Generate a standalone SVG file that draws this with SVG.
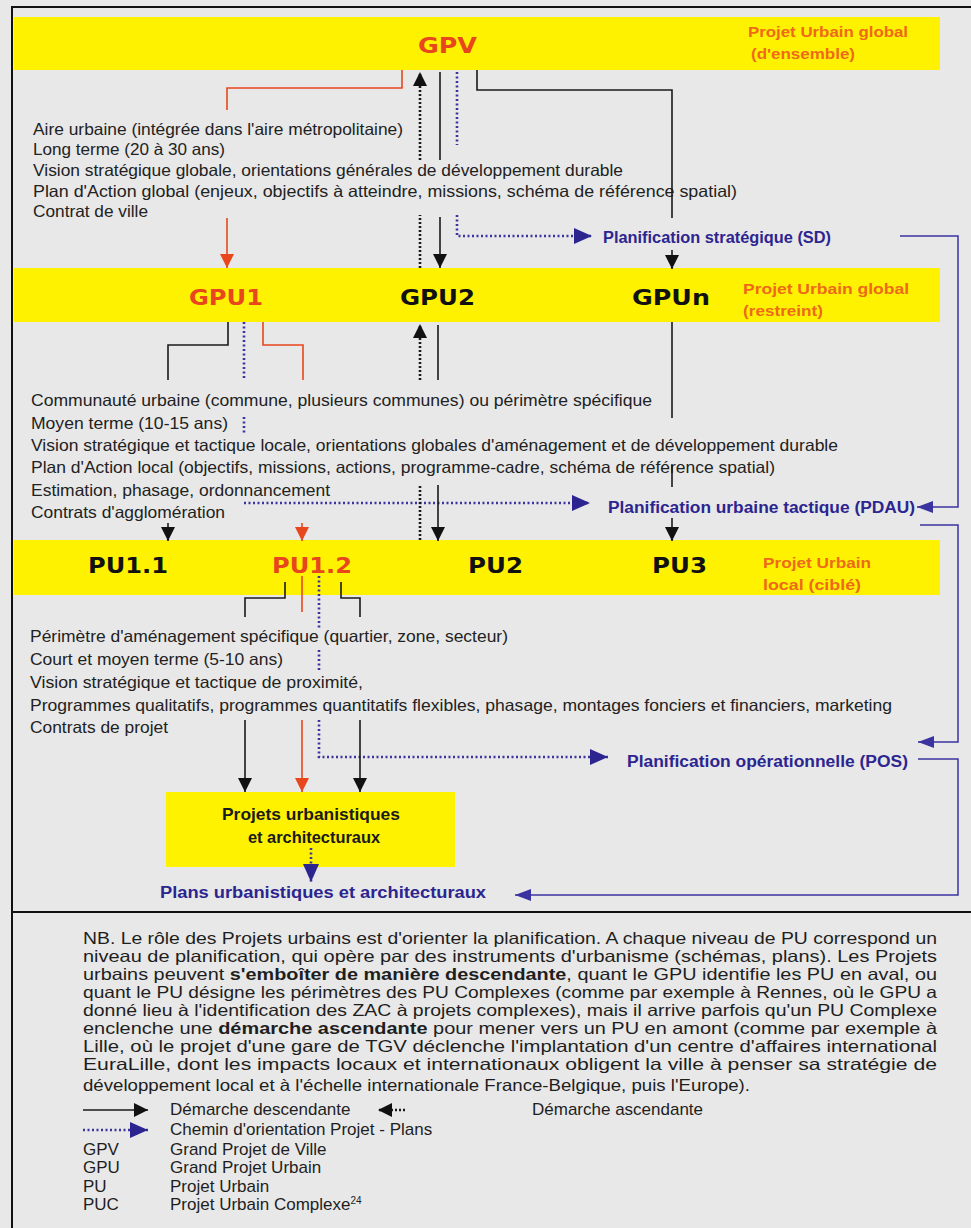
<svg xmlns="http://www.w3.org/2000/svg" width="971" height="1228" viewBox="0 0 971 1228">
<style>
.t{font-family:"Liberation Sans",Arial,sans-serif;font-size:16.5px;fill:#222}
.nb{font-family:"Liberation Sans",Arial,sans-serif;font-size:16.5px;fill:#1e1e1e}
.lg{font-family:"Liberation Sans",Arial,sans-serif;font-size:17px;fill:#1e1e1e}
.big{font-family:"DejaVu Sans",Verdana,sans-serif;font-weight:bold;font-size:22px;fill:#111}
.red{fill:#e8461c}
.lab{font-family:"Liberation Sans",Arial,sans-serif;font-weight:bold;font-size:15px;fill:#ee6a1a}
.pl{font-family:"Liberation Sans",Arial,sans-serif;font-weight:bold;font-size:16px;fill:#2c2590}
.box{font-family:"Liberation Sans",Arial,sans-serif;font-weight:bold;font-size:16.5px;fill:#1a1a1a}
.band{fill:#fff200}
.k{fill:none;stroke:#1a1a1a;stroke-width:1.6}
.kd{fill:none;stroke:#1a1a1a;stroke-width:2.6;stroke-dasharray:2 2}
.r{fill:none;stroke:#e8461c;stroke-width:1.6}
.bd{fill:none;stroke:#3a33a0;stroke-width:2.6;stroke-dasharray:2 2.5}
.b{fill:none;stroke:#3a33a0;stroke-width:1.5}
</style>
<defs>
<marker id="ak" viewBox="0 0 14 14" markerUnits="userSpaceOnUse" markerWidth="14" markerHeight="14" refX="14" refY="7" orient="auto"><path d="M0,0 L14,7 L0,14 z" fill="#111"/></marker>
<marker id="ar" viewBox="0 0 14 14" markerUnits="userSpaceOnUse" markerWidth="14" markerHeight="14" refX="14" refY="7" orient="auto"><path d="M0,0 L14,7 L0,14 z" fill="#e8461c"/></marker>
<marker id="ab" viewBox="0 0 18 16" markerUnits="userSpaceOnUse" markerWidth="18" markerHeight="16" refX="18" refY="8" orient="auto"><path d="M0,0 L18,8 L0,16 z" fill="#2c2590"/></marker>
<marker id="abs" viewBox="0 0 16 12" markerUnits="userSpaceOnUse" markerWidth="16" markerHeight="12" refX="16" refY="6" orient="auto"><path d="M0,0 L16,6 L0,12 z" fill="#3a33a0"/></marker>
<clipPath id="c3"><rect x="14" y="540" width="926" height="55"/></clipPath>
</defs>
<rect x="0" y="0" width="971" height="1228" fill="#e8e8e8"/>
<g id="frame" fill="none" stroke="#111" stroke-width="2">
<path d="M12,1228 V7 H971"/>
<path d="M12,912 H971"/>
</g>

<g id="level1">
<rect class="band" x="14" y="17" width="926" height="53"/>
<text class="big red" x="418" y="53" textLength="59" lengthAdjust="spacingAndGlyphs">GPV</text>
<text class="lab" x="748" y="37" textLength="160" lengthAdjust="spacingAndGlyphs">Projet Urbain global</text>
<text class="lab" x="751" y="59" textLength="104" lengthAdjust="spacingAndGlyphs">(d'ensemble)</text>
</g>
<g id="text1">
<text class="t" x="33" y="135" textLength="370" lengthAdjust="spacingAndGlyphs">Aire urbaine (intégrée dans l'aire métropolitaine)</text>
<text class="t" x="33" y="155" textLength="192" lengthAdjust="spacingAndGlyphs">Long terme (20 à 30 ans)</text>
<text class="t" x="33" y="176" textLength="590" lengthAdjust="spacingAndGlyphs">Vision stratégique globale, orientations générales de développement durable</text>
<text class="t" x="33" y="197" textLength="704" lengthAdjust="spacingAndGlyphs">Plan d'Action global (enjeux, objectifs à atteindre, missions, schéma de référence spatial)</text>
<text class="t" x="33" y="217" textLength="115" lengthAdjust="spacingAndGlyphs">Contrat de ville</text>
</g>
<g id="plan-sd"><text class="pl" x="603" y="243" textLength="228" lengthAdjust="spacingAndGlyphs">Planification stratégique  (SD)</text></g>

<g id="level2">
<rect class="band" x="14" y="268" width="926" height="54"/>
<text class="big red" x="189" y="305" textLength="74" lengthAdjust="spacingAndGlyphs">GPU1</text>
<text class="big" x="400" y="305" textLength="75" lengthAdjust="spacingAndGlyphs">GPU2</text>
<text class="big" x="632" y="305" textLength="78" lengthAdjust="spacingAndGlyphs">GPUn</text>
<text class="lab" x="743" y="294" textLength="166" lengthAdjust="spacingAndGlyphs">Projet Urbain global</text>
<text class="lab" x="743" y="316" textLength="80" lengthAdjust="spacingAndGlyphs">(restreint)</text>
</g>
<g id="text2">
<text class="t" x="31" y="406" textLength="621" lengthAdjust="spacingAndGlyphs">Communauté urbaine (commune, plusieurs communes) ou périmètre spécifique</text>
<text class="t" x="31" y="429" textLength="197" lengthAdjust="spacingAndGlyphs">Moyen terme (10-15 ans)</text>
<text class="t" x="31" y="451" textLength="807" lengthAdjust="spacingAndGlyphs">Vision stratégique et tactique locale, orientations globales d'aménagement et de développement durable</text>
<text class="t" x="31" y="473" textLength="744" lengthAdjust="spacingAndGlyphs">Plan d'Action local (objectifs, missions, actions, programme-cadre, schéma de référence spatial)</text>
<text class="t" x="31" y="496" textLength="299" lengthAdjust="spacingAndGlyphs">Estimation, phasage, ordonnancement</text>
<text class="t" x="31" y="518" textLength="194" lengthAdjust="spacingAndGlyphs">Contrats d'agglomération</text>
</g>
<g id="plan-pdau"><text class="pl" x="608" y="513" textLength="307" lengthAdjust="spacingAndGlyphs">Planification urbaine tactique (PDAU)</text></g>

<g id="level3">
<rect class="band" x="14" y="540" width="926" height="55"/>
<text class="big" x="88" y="573" textLength="80" lengthAdjust="spacingAndGlyphs">PU1.1</text>
<text class="big red" x="272" y="573" textLength="80" lengthAdjust="spacingAndGlyphs">PU1.2</text>
<text class="big" x="468" y="573" textLength="55" lengthAdjust="spacingAndGlyphs">PU2</text>
<text class="big" x="652" y="573" textLength="55" lengthAdjust="spacingAndGlyphs">PU3</text>
<text class="lab" x="763" y="568" textLength="108" lengthAdjust="spacingAndGlyphs">Projet Urbain</text>
<text class="lab" x="763" y="590" textLength="98" lengthAdjust="spacingAndGlyphs" clip-path="url(#c3)">local  (ciblé)</text>
</g>
<g id="text3">
<text class="t" x="30" y="642" textLength="478" lengthAdjust="spacingAndGlyphs">Périmètre d'aménagement spécifique (quartier, zone, secteur)</text>
<text class="t" x="30" y="665" textLength="253" lengthAdjust="spacingAndGlyphs">Court et moyen terme (5-10 ans)</text>
<text class="t" x="30" y="688" textLength="333" lengthAdjust="spacingAndGlyphs">Vision stratégique et  tactique de proximité,</text>
<text class="t" x="30" y="711" textLength="862" lengthAdjust="spacingAndGlyphs">Programmes qualitatifs, programmes quantitatifs flexibles, phasage, montages fonciers et financiers, marketing</text>
<text class="t" x="30" y="733" textLength="138" lengthAdjust="spacingAndGlyphs">Contrats de projet</text>
</g>
<g id="plan-pos"><text class="pl" x="627" y="767" textLength="281" lengthAdjust="spacingAndGlyphs">Planification opérationnelle (POS)</text></g>

<g id="projets">
<rect class="band" x="166" y="792" width="289" height="75"/>
<text class="box" x="222" y="820" textLength="178" lengthAdjust="spacingAndGlyphs">Projets urbanistiques</text>
<text class="box" x="248" y="843" textLength="132" lengthAdjust="spacingAndGlyphs">et architecturaux</text>
</g>
<g id="plans"><text class="pl" x="160" y="898" textLength="326" lengthAdjust="spacingAndGlyphs">Plans urbanistiques et architecturaux</text></g>

<g id="connectors">
<path class="r" d="M402,70 V88 H227 V110"/>
<path class="r" d="M227,218 V268" marker-end="url(#ar)"/>
<path class="kd" d="M420,160 V72" marker-end="url(#ak)"/>
<path class="kd" d="M420,268 V215"/>
<path class="k" d="M440,72 V160"/>
<path class="k" d="M440,217 V268" marker-end="url(#ak)"/>
<path class="bd" d="M457,72 V145"/>
<path class="bd" d="M457,215 V236 H592" marker-end="url(#ab)"/>
<path class="k" d="M477,70 V90 H672 V218"/>
<path class="k" d="M672,250 V269" marker-end="url(#ak)"/>
<path class="k" d="M228,322 V345 H168 V380"/>
<path class="bd" d="M244,322 V380"/>
<path class="bd" d="M244,417 V433"/>
<path class="bd" d="M244,503 H590" marker-end="url(#ab)"/>
<path class="r" d="M263,322 V345 H303 V380"/>
<path class="k" d="M168,523 V541" marker-end="url(#ak)"/>
<path class="r" d="M302,523 V541" marker-end="url(#ar)"/>
<path class="kd" d="M420,380 V324" marker-end="url(#ak)"/>
<path class="k" d="M438,325 V380"/>
<path class="kd" d="M420,540 V485"/>
<path class="k" d="M438,485 V541" marker-end="url(#ak)"/>
<path class="k" d="M672,322 V418"/>
<path class="k" d="M672,465 V487"/>
<path class="k" d="M672,518 V541" marker-end="url(#ak)"/>
<path class="k" d="M285,582 V598 H245 V617"/>
<path class="r" d="M302,576 V612"/>
<path class="bd" d="M319,576 V630"/>
<path class="bd" d="M319,650 V670"/>
<path class="bd" d="M319,720 V757 H608" marker-end="url(#ab)"/>
<path class="k" d="M341,582 V598 H360 V617"/>
<path class="k" d="M245,720 V792" marker-end="url(#ak)"/>
<path class="r" d="M302,720 V792" marker-end="url(#ar)"/>
<path class="k" d="M360,720 V792" marker-end="url(#ak)"/>
<path class="bd" d="M311,848 V882" marker-end="url(#ab)"/>
<path class="b" d="M900,236 H958 V507 H917" marker-end="url(#abs)"/>
<path class="b" d="M920,525 H958 V742 H918" marker-end="url(#abs)"/>
<path class="b" d="M918,759 H958 V895 H515" marker-end="url(#abs)"/>
<path class="k" d="M83,1110 H148" marker-end="url(#ak)"/>
<path class="kd" d="M405,1110 H378" marker-end="url(#ak)"/>
<path class="bd" d="M83,1130 H148" marker-end="url(#ab)"/>
</g>

<g id="nb">
<text class="nb" x="83" y="944" textLength="854" lengthAdjust="spacingAndGlyphs">NB. Le rôle des Projets urbains est d'orienter la planification. A chaque niveau de PU correspond un</text>
<text class="nb" x="83" y="962" textLength="854" lengthAdjust="spacingAndGlyphs">niveau de planification, qui opère par des instruments d'urbanisme (schémas, plans). Les Projets</text>
<text class="nb" x="83" y="980" textLength="854" lengthAdjust="spacingAndGlyphs">urbains peuvent <tspan font-weight="bold">s'emboîter de manière descendante</tspan>, quant le GPU identifie les PU en aval, ou</text>
<text class="nb" x="83" y="998" textLength="854" lengthAdjust="spacingAndGlyphs">quant le PU désigne les périmètres des PU Complexes (comme par exemple à Rennes, où le GPU a</text>
<text class="nb" x="83" y="1016" textLength="854" lengthAdjust="spacingAndGlyphs">donné lieu à l'identification des ZAC à projets complexes), mais il arrive parfois qu'un PU Complexe</text>
<text class="nb" x="83" y="1034" textLength="854" lengthAdjust="spacingAndGlyphs">enclenche une <tspan font-weight="bold">démarche ascendante</tspan> pour mener vers un PU en amont (comme par exemple à</text>
<text class="nb" x="83" y="1052" textLength="854" lengthAdjust="spacingAndGlyphs">Lille, où le projet d'une gare de TGV déclenche l'implantation d'un centre d'affaires international</text>
<text class="nb" x="83" y="1070" textLength="854" lengthAdjust="spacingAndGlyphs">EuraLille, dont les impacts locaux et internationaux obligent la ville à penser sa stratégie de</text>
<text class="nb" x="83" y="1091" textLength="667" lengthAdjust="spacingAndGlyphs">développement local et à l'échelle internationale France-Belgique, puis l'Europe).</text>
</g>
<g id="legend">
<text class="lg" x="170" y="1115">Démarche descendante</text>
<text class="lg" x="532" y="1115">Démarche ascendante</text>
<text class="lg" x="170" y="1135">Chemin d'orientation Projet - Plans</text>
<text class="lg" x="83" y="1155">GPV</text><text class="lg" x="170" y="1155">Grand Projet de Ville</text>
<text class="lg" x="83" y="1173">GPU</text><text class="lg" x="170" y="1173">Grand Projet Urbain</text>
<text class="lg" x="83" y="1192">PU</text><text class="lg" x="170" y="1192">Projet Urbain</text>
<text class="lg" x="83" y="1210">PUC</text><text class="lg" x="170" y="1210">Projet Urbain Complexe<tspan font-size="10" dy="-6">24</tspan></text>
</g>
</svg>
